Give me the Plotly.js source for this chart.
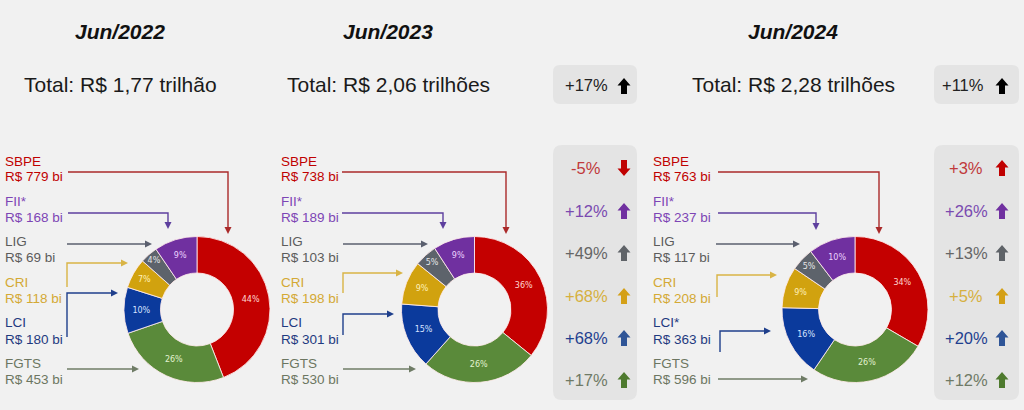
<!DOCTYPE html>
<html>
<head>
<meta charset="utf-8">
<script src="https://cdn.plot.ly/plotly-3.0.1.min.js"></script>
<style>html,body{margin:0;padding:0;background:#f1f1f1;}#chart{width:1024px;height:410px;}</style>
</head>
<body>
<div id="chart"></div>
<script>
// ---------------- DATA ----------------
const years = ['Jun/2022', 'Jun/2023', 'Jun/2024'];
const totals = ['Total: R$ 1,77 trilhão', 'Total: R$ 2,06 trilhões', 'Total: R$ 2,28 trilhões'];
const categories2022 = ['SBPE', 'FII*', 'LIG', 'CRI', 'LCI', 'FGTS'];
const categories2023 = ['SBPE', 'FII*', 'LIG', 'CRI', 'LCI', 'FGTS'];
const categories2024 = ['SBPE', 'FII*', 'LIG', 'CRI', 'LCI*', 'FGTS'];
const values2022 = [779, 168, 69, 118, 180, 453];
const values2023 = [738, 189, 103, 198, 301, 530];
const values2024 = [763, 237, 117, 208, 363, 596];
const pctLabels2022 = ['44%', '9%', '4%', '7%', '10%', '26%'];
const pctLabels2023 = ['36%', '9%', '5%', '9%', '15%', '26%'];
const pctLabels2024 = ['34%', '10%', '5%', '9%', '16%', '26%'];
const totalChange = [null, '+17%', '+11%'];
const change2023 = ['-5%', '+12%', '+49%', '+68%', '+68%', '+17%'];
const change2024 = ['+3%', '+26%', '+13%', '+5%', '+20%', '+12%'];

// ---------------- STYLE ----------------
const W = 1024, H = 410;
const X = x => x / W, Y = y => 1 - y / H;
const FONT = 'Liberation Sans, Arial, sans-serif';
const sliceColors = ['#c40000', '#7030a0', '#5d636b', '#d1a20f', '#0b3a9c', '#5a8a3a'];
const sliceTextColors = ['#ffd6d0', '#ecd2ff', '#e6e6e6', '#fff0b8', '#d6e2ff', '#e2f2d0'];
const labelColors = ['#c00000', '#7d45b5', '#5c5c5c', '#d4a935', '#1f3a80', '#6c7661'];
const lineColors = ['#aa2a2a', '#5d3f9e', '#5a5f6e', '#d9b445', '#1f3f8c', '#6f7c66'];
const changeColors = ['#c0393b', '#7a4ab0', '#666666', '#d6b040', '#1f3f8f', '#6f7a66'];
const arrowColors = ['#c00000', '#7030a0', '#5f6368', '#d4a017', '#2f5597', '#4e7a2e'];
const pieOrder = [0, 5, 4, 3, 2, 1]; // clockwise from 12 o'clock

const panels = [
  {cx: 197, labelX: 3, cats: categories2022, vals: values2022, pct: pctLabels2022, titleX: 120,
   conn: [[[68,172],[228,172],[228,234]], [[68,213],[168,213],[168,229]], [[67,244],[152,244]],
          [[67,287],[67,263],[128,263]], [[67,337],[67,293],[118,293]], [[67,369],[139,369]]]},
  {cx: 474.5, labelX: 279, cats: categories2023, vals: values2023, pct: pctLabels2023, titleX: 388,
   conn: [[[342,172],[506,172],[506,234]], [[342,213],[443,213],[443,229]], [[343,244],[428,244]],
          [[343,293],[343,273],[403,273]], [[343,335],[343,314],[394,314]], [[343,369],[416,369]]]},
  {cx: 855, labelX: 651, cats: categories2024, vals: values2024, pct: pctLabels2024, titleX: 793,
   conn: [[[718,172],[879,172],[879,234]], [[718,213],[816,213],[816,230]], [[716,244],[800,244]],
          [[717,297],[717,275],[777,275]], [[720,352],[720,331],[771,331]], [[718,379],[808,379]]]}
];
const R = 73, CY = 309.5;
const nameY = [161, 201, 241, 282, 322, 363];
const valY = [177, 217, 257, 298, 339, 379];
const rowY = [168, 211, 253, 296, 338, 380];

const traces = [];
const annotations = [];
const shapes = [];

function P(x, y) { return X(x).toFixed(5) + ',' + Y(y).toFixed(5); }
function roundBox(x0, y0, x1, y1, r, fill) {
  const d = 'M' + P(x0 + r, y0) + ' L' + P(x1 - r, y0) + ' Q' + P(x1, y0) + ' ' + P(x1, y0 + r) +
    ' L' + P(x1, y1 - r) + ' Q' + P(x1, y1) + ' ' + P(x1 - r, y1) +
    ' L' + P(x0 + r, y1) + ' Q' + P(x0, y1) + ' ' + P(x0, y1 - r) +
    ' L' + P(x0, y0 + r) + ' Q' + P(x0, y0) + ' ' + P(x0 + r, y0) + ' Z';
  shapes.push({type: 'path', xref: 'paper', yref: 'paper', path: d, fillcolor: fill, line: {width: 0}, layer: 'below'});
}
function blockArrow(cx, cy, up, color) {
  const s = up ? 1 : -1;
  const pts = [[cx, cy - 8 * s], [cx + 6.5, cy - 0.5 * s], [cx + 3, cy - 0.5 * s], [cx + 3, cy + 8 * s],
               [cx - 3, cy + 8 * s], [cx - 3, cy - 0.5 * s], [cx - 6.5, cy - 0.5 * s]];
  const d = 'M' + pts.map(p => P(p[0], p[1])).join(' L') + ' Z';
  shapes.push({type: 'path', xref: 'paper', yref: 'paper', path: d, fillcolor: color, line: {width: 0}});
}
function connector(pts, color) {
  const n = pts.length;
  const tip = pts[n - 1], prev = pts[n - 2];
  const dx = tip[0] - prev[0], dy = tip[1] - prev[1];
  const len = Math.hypot(dx, dy), ux = dx / len, uy = dy / len;
  const hl = 7, hw = 3.5;
  const base = [tip[0] - ux * hl, tip[1] - uy * hl];
  const linePts = pts.slice(0, n - 1).concat([base]);
  shapes.push({type: 'path', xref: 'paper', yref: 'paper',
    path: 'M' + linePts.map(p => P(p[0], p[1])).join(' L'), line: {color: color, width: 1.4}});
  const h = [tip, [base[0] - uy * hw, base[1] + ux * hw], [base[0] + uy * hw, base[1] - ux * hw]];
  shapes.push({type: 'path', xref: 'paper', yref: 'paper',
    path: 'M' + h.map(p => P(p[0], p[1])).join(' L') + ' Z', fillcolor: color, line: {width: 0}});
}
function text(x, y, t, size, color, anchor) {
  annotations.push({xref: 'paper', yref: 'paper', x: X(x), y: Y(y), text: t, showarrow: false,
    xanchor: anchor || 'center', yanchor: 'middle', font: {family: FONT, size: size, color: color}});
}

panels.forEach((p, k) => {
  traces.push({
    type: 'pie', hole: 0.5, sort: false, direction: 'clockwise', rotation: 0,
    labels: pieOrder.map(i => p.cats[i]),
    values: pieOrder.map(i => p.vals[i]),
    text: pieOrder.map(i => p.pct[i]),
    textinfo: 'text', textposition: 'inside', insidetextorientation: 'horizontal',
    insidetextfont: {family: 'DejaVu Sans, sans-serif', size: 8, color: pieOrder.map(i => sliceTextColors[i])},
    marker: {colors: pieOrder.map(i => sliceColors[i]), line: {color: 'rgba(255,235,235,0.85)', width: 1}},
    domain: {x: [X(p.cx - R), X(p.cx + R)], y: [Y(CY + R), Y(CY - R)]},
    showlegend: false, hoverinfo: 'label+value'
  });
  text(p.titleX, 32, '<b><i>' + years[k] + '</i></b>', 21, '#111111');
  text(p.titleX, 85, totals[k], 21, '#1a1a1a');
  p.cats.forEach((c, i) => {
    text(p.labelX, nameY[i], c, 13.5, labelColors[i], 'left');
    text(p.labelX, valY[i], 'R$ ' + p.vals[i] + ' bi', 13.5, labelColors[i], 'left');
    connector(p.conn[i], lineColors[i]);
  });
});

// change boxes
const boxes = [
  {x0: 553, x1: 637, tx: 586, ax: 624, total: totalChange[1], rows: change2023},
  {x0: 934, x1: 1019, tx: 966, ax: 1002, total: totalChange[2], rows: change2024}
];
boxes.forEach(b => {
  roundBox(b.x0, 65, b.x1, 104, 7, '#e4e4e4');
  roundBox(b.x0, 145, b.x1, 400, 9, '#e4e4e4');
  text(b.tx - (b.total === '+11%' ? 3 : 0), 85, b.total, 16.5, '#222222');
  blockArrow(b.ax, 86, b.total[0] === '+', '#000000');
  b.rows.forEach((v, i) => {
    text(b.tx, rowY[i], v, 16.5, changeColors[i]);
    blockArrow(b.ax, rowY[i], v[0] === '+', arrowColors[i]);
  });
});

const layout = {
  width: W, height: H, margin: {l: 0, r: 0, t: 0, b: 0},
  paper_bgcolor: '#f1f1f1', plot_bgcolor: '#f1f1f1',
  showlegend: false, annotations: annotations, shapes: shapes,
  font: {family: FONT}
};
Plotly.newPlot('chart', traces, layout, {displayModeBar: false, staticPlot: true});
</script>
</body>
</html>
